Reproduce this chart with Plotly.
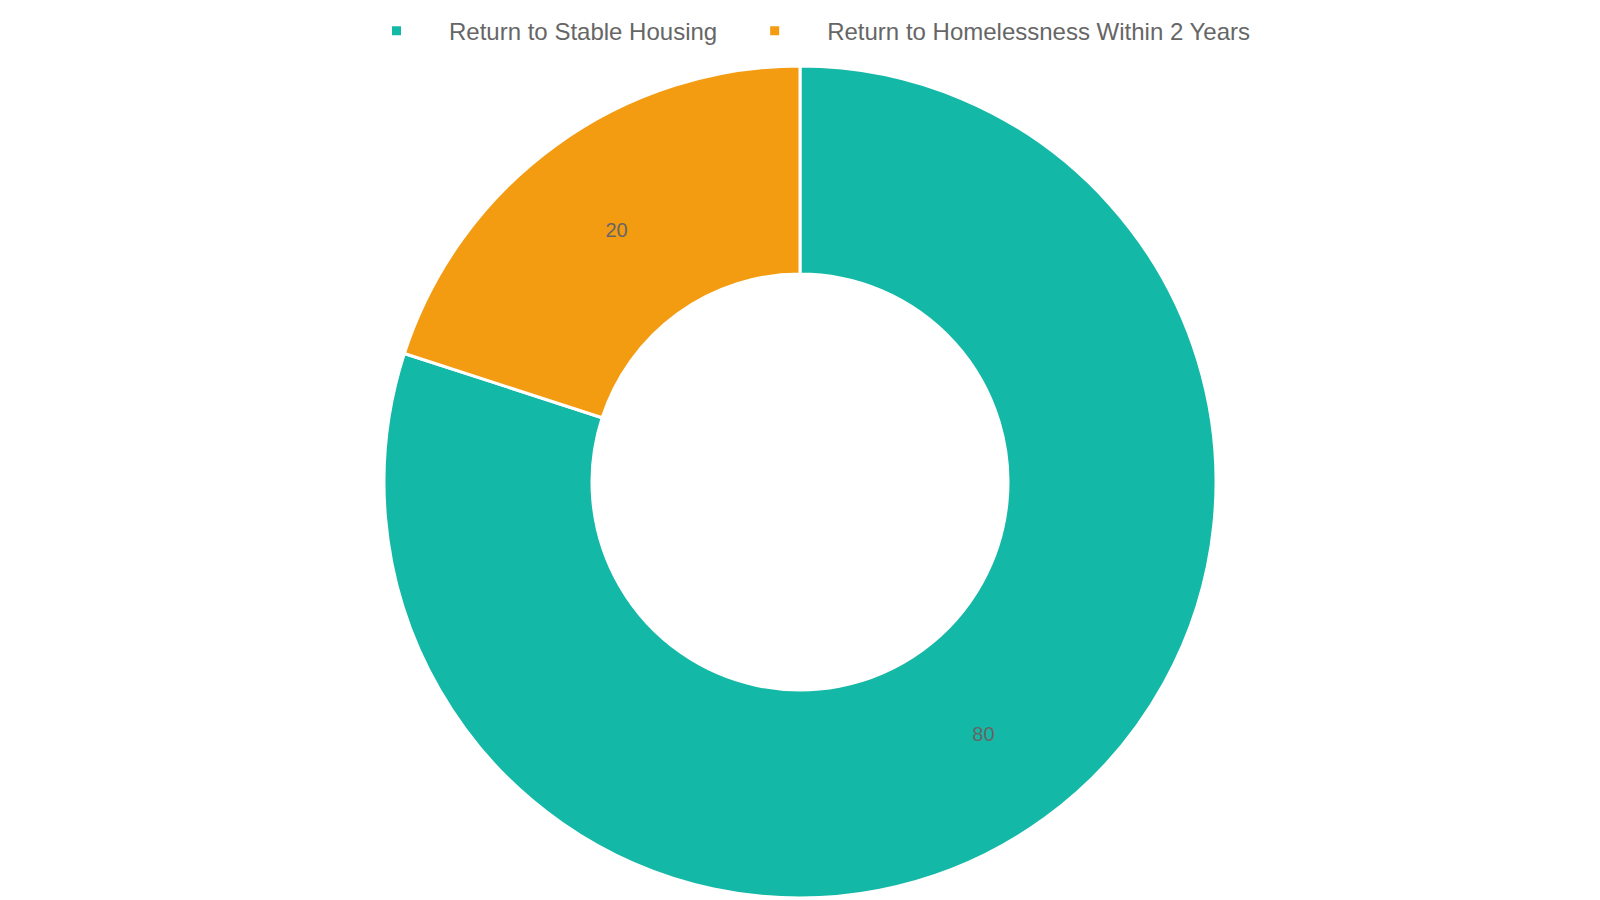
import plotly.graph_objects as go

# Outcome shares (percent)
labels = ['Return to Stable Housing', 'Return to Homelessness Within 2 Years']
values = [80, 20]
colors = ['#14B8A6', '#F39C12']

fig = go.Figure()

fig.add_trace(go.Pie(
    labels=labels,
    values=values,
    hole=0.5,
    sort=False,
    direction='clockwise',
    rotation=0,
    textinfo='value',
    textposition='inside',
    insidetextorientation='horizontal',
    textfont=dict(size=20, color='#666666', family='Liberation Sans, Arial, sans-serif'),
    marker=dict(colors=colors, line=dict(color='#ffffff', width=3)),
    hoverinfo='label+value',
))

fig.update_layout(
    width=1600,
    height=900,
    paper_bgcolor='white',
    plot_bgcolor='white',
    margin=dict(l=0, r=16, t=58, b=10),
    font=dict(family='Liberation Sans, Arial, sans-serif', color='#666666'),
    legend=dict(
        orientation='h',
        x=0.5,
        xanchor='center',
        y=1.042,
        yanchor='middle',
        itemwidth=95,
        font=dict(size=24, color='#666666'),
    ),
)

fig.write_html("out.html")
